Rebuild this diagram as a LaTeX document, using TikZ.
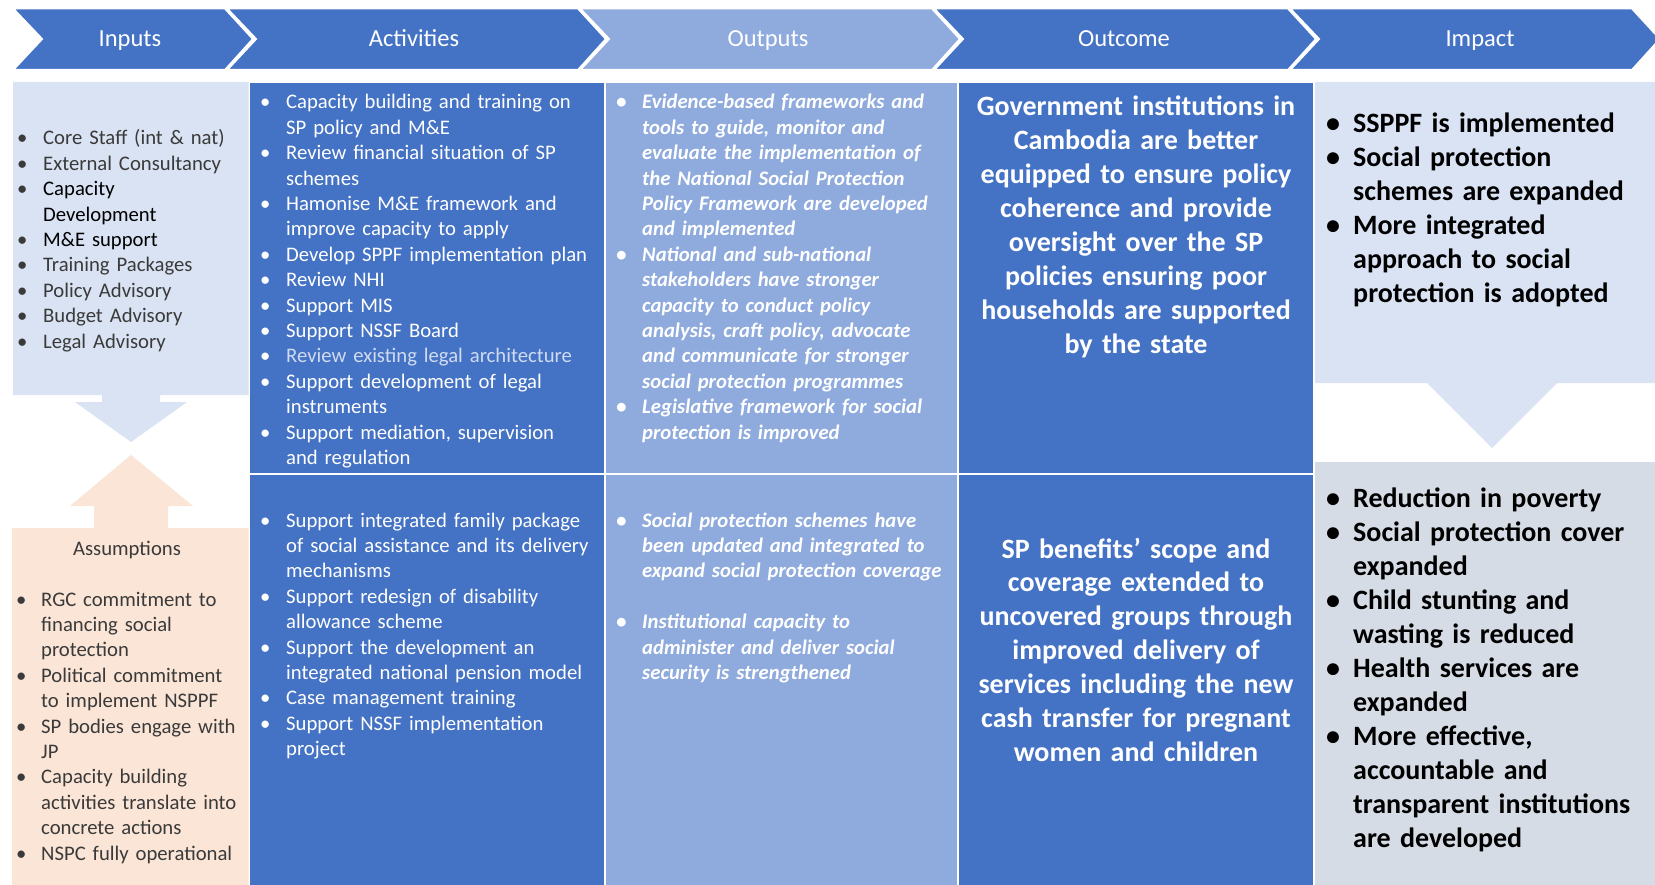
\documentclass[tikz,border=0pt]{standalone}
\usepackage{fontspec}
\setmainfont{Carlito}
\definecolor{dblue}{HTML}{4472C4}
\definecolor{lblue}{HTML}{8FAADC}
\definecolor{pblue}{HTML}{DAE3F3}
\definecolor{pgray}{HTML}{D6DCE5}
\definecolor{peach}{HTML}{FBE5D6}
\definecolor{txtgray}{HTML}{3A3A3A}
\definecolor{faint}{HTML}{D0DBF0}
\newcommand\bitem[2][26pt]{\hangindent=#1\hangafter=1\noindent\makebox[#1][l]{\textbullet}#2\par}
\tikzset{
  hdr/.style={fill=#1, draw=white, line width=2pt, line join=miter},
  hdrtxt/.style={text=white, font=\fontsize{24.5}{29}\selectfont, inner sep=0pt, anchor=base},
  smalltxt/.style={font=\fontsize{20.7}{25.4}\selectfont, inner sep=0pt, anchor=base west, align=left},
  bigtxt/.style={font=\bfseries\fontsize{28}{33.9}\selectfont, inner sep=0pt, anchor=base, align=center},
  cell/.style={fill=#1, draw=white, line width=1.5pt},
}
\newcommand\chev[4]{%
  \filldraw[hdr=#1] (#2,8.5) -- (#3,8.5) -- (#4,39) -- (#3,70) -- (#2,70) -- ({#2+29},39) -- cycle;}
\begin{document}
\begin{tikzpicture}[x=1pt,y=-1pt]
\fill[white] (0,0) rectangle (1655,885);
\useasboundingbox (0,0) rectangle (1655,885);
\begin{scope}
\clip (0,0) rectangle (1655,885);
% header chevrons
\chev{dblue}{13}{225}{253}
\chev{dblue}{227}{578}{606}
\chev{lblue}{580}{932}{960}
\chev{dblue}{934}{1288}{1316}
\chev{dblue}{1290}{1632}{1660}
\node[hdrtxt] (hInputs) at (130,47) {Inputs};
\node[hdrtxt] (hActivities) at (414,47) {Activities};
\node[hdrtxt] (hOutputs) at (768,47) {Outputs};
\node[hdrtxt] (hOutcome) at (1124,47) {Outcome};
\node[hdrtxt] (hImpact) at (1480,47) {Impact};
% body cells
\filldraw[cell=dblue] (249,82) rectangle (605,474);
\filldraw[cell=lblue] (605,82) rectangle (958,474);
\filldraw[cell=dblue] (958,82) rectangle (1314,474);
\filldraw[cell=dblue] (249,474) rectangle (605,895);
\filldraw[cell=lblue] (605,474) rectangle (958,895);
\filldraw[cell=dblue] (958,474) rectangle (1314,895);
% inputs down-arrow callout
\fill[pblue] (13,82) -- (248.5,82) -- (248.5,395) -- (160,395) -- (160,402) -- (187,402) -- (131,442)
  -- (75,402) -- (102,402) -- (102,395) -- (13,395) -- cycle;
% assumptions up-arrow callout
\fill[peach] (12,890) -- (12,528) -- (94,528) -- (94,506) -- (70,506) -- (131,455) -- (193,506)
  -- (168,506) -- (168,528) -- (248.5,528) -- (248.5,890) -- cycle;
% impact down-arrow callout
\fill[pblue] (1315,82) -- (1660,82) -- (1660,383) -- (1557,383) -- (1492,448) -- (1427,383) -- (1315,383) -- cycle;
\fill[pgray] (1315,462) rectangle (1660,890);
\end{scope}
% texts
\node[smalltxt, text=txtgray, text width=228pt] (inputs) at (17,145) {%
\bitem{Core Staff (int \& nat)}%
\bitem{External Consultancy}%
\bitem{\textcolor{black}{Capacity\newline Development}}%
\bitem{\textcolor{black}{M\&E support}}%
\bitem{Training Packages}%
\bitem{Policy Advisory}%
\bitem{Budget Advisory}%
\bitem{Legal Advisory}};
\node[smalltxt, text=white, text width=342pt] (acttop) at (260,109) {%
\bitem{Capacity building and training on\newline SP policy and M\&E}%
\bitem{Review financial situation of SP\newline schemes}%
\bitem{Hamonise M\&E framework and\newline improve capacity to apply}%
\bitem{Develop SPPF implementation plan}%
\bitem{Review NHI}%
\bitem{Support MIS}%
\bitem{Support NSSF Board}%
\bitem{\textcolor{faint}{Review existing legal architecture}}%
\bitem{Support development of legal\newline instruments}%
\bitem{Support mediation, supervision\newline and regulation}};
\node[smalltxt, text=white, text width=342pt] (actbot) at (260,527) {%
\bitem{Support integrated family package\newline of social assistance and its delivery\newline mechanisms}%
\bitem{Support redesign of disability\newline allowance scheme}%
\bitem{Support the development an\newline integrated national pension model}%
\bitem{Case management training}%
\bitem{Support NSSF implementation\newline project}};
\node[smalltxt, font=\fontsize{20.7}{25.4}\selectfont\bfseries\itshape, text=white, text width=338pt] (outtop) at (616,109) {%
\bitem{Evidence-based frameworks and\newline tools to guide, monitor and\newline evaluate the implementation of\newline the National Social Protection\newline Policy Framework are developed\newline and implemented}%
\bitem{National and sub-national\newline stakeholders have stronger\newline capacity to conduct policy\newline analysis, craft policy, advocate\newline and communicate for stronger\newline social protection programmes}%
\bitem{Legislative framework for social\newline protection is improved}};
\node[smalltxt, font=\fontsize{20.7}{25.4}\selectfont\bfseries\itshape, text=white, text width=338pt] (outbot) at (616,527) {%
\bitem{Social protection schemes have\newline been updated and integrated to\newline expand social protection coverage}%
\vskip 25.4pt
\bitem{Institutional capacity to\newline administer and deliver social\newline security is strengthened}};
\node[bigtxt, text=white, text width=352pt] (ocmtop) at (1136,116) {Government institutions in\\Cambodia are better\\equipped to ensure policy\\coherence and provide\\oversight over the SP\\policies ensuring poor\\households are supported\\by the state};
\node[bigtxt, text=white, text width=352pt] (ocmbot) at (1136,558) {SP benefits’ scope and\\coverage extended to\\uncovered groups through\\improved delivery of\\services including the new\\cash transfer for pregnant\\women and children};
\node[smalltxt, font=\bfseries\fontsize{28}{34}\selectfont, text=black, text width=325pt] (imptop) at (1326,133) {%
\bitem[27pt]{SSPPF is implemented}%
\bitem[27pt]{Social protection\newline schemes are expanded}%
\bitem[27pt]{More integrated\newline approach to social\newline protection is adopted}};
\node[smalltxt, font=\bfseries\fontsize{28}{34}\selectfont, text=black, text width=325pt] (impbot) at (1326,507) {%
\bitem[27pt]{Reduction in poverty}%
\bitem[27pt]{Social protection cover\newline expanded}%
\bitem[27pt]{Child stunting and\newline wasting is reduced}%
\bitem[27pt]{Health services are\newline expanded}%
\bitem[27pt]{More effective,\newline accountable and\newline transparent institutions\newline are developed}};
\node[font=\fontsize{20.7}{25.4}\selectfont, text=txtgray, inner sep=0pt, anchor=base] (asstitle) at (127,555) {Assumptions};
\node[smalltxt, text=txtgray, text width=228pt] (assum) at (16,606) {%
\bitem[25pt]{RGC commitment to\newline financing social\newline protection}%
\bitem[25pt]{Political commitment\newline to implement NSPPF}%
\bitem[25pt]{SP bodies engage with\newline JP}%
\bitem[25pt]{Capacity building\newline activities translate into\newline concrete actions}%
\bitem[25pt]{NSPC fully operational}};
\end{tikzpicture}
\end{document}
